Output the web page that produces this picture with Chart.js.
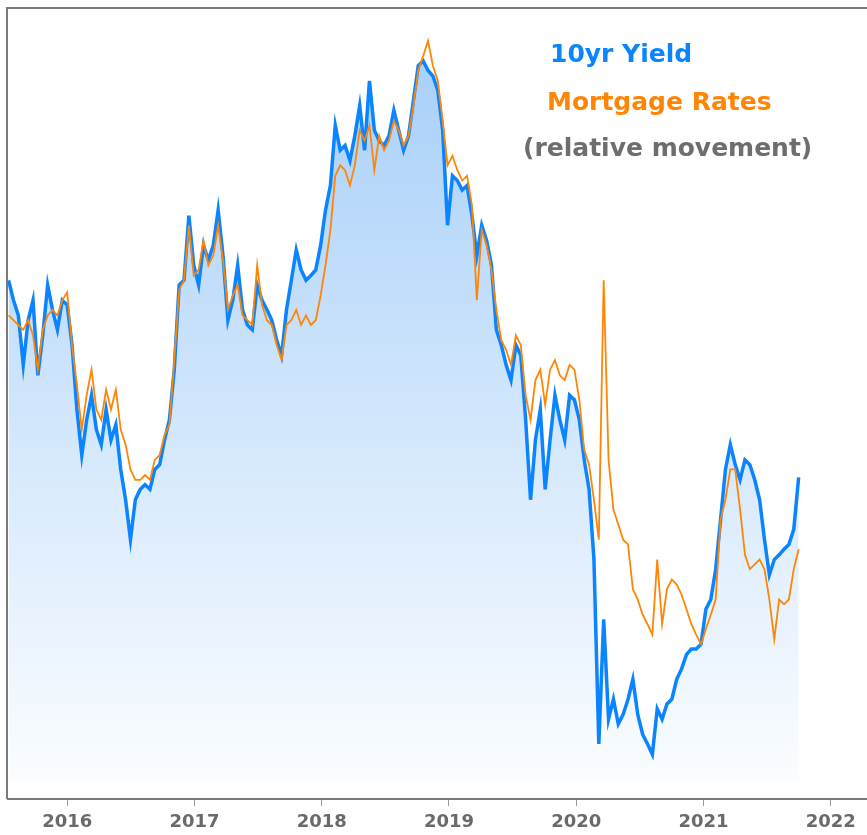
<!DOCTYPE html>
<html>
<head>
<meta charset="utf-8">
<script src="https://cdn.jsdelivr.net/npm/chart.js@4.4.0/dist/chart.umd.min.js"></script>
<style>
    html, body { margin: 0; padding: 0; background: #fff; }
    #wrap { width: 867px; height: 835px; }
</style>
</head>
<body>
<div id="wrap"><canvas id="rateChart" width="867" height="835"></canvas></div>
<script>
// two-week samples starting mid July 2015
const startDate = '2015-07-17';
const stepDays = 14;
const yearTicks = [2016, 2017, 2018, 2019, 2020, 2021, 2022];

// relative movement index (0 = bottom of the chart, 99 = top)
const yieldIndex = [
    65.0, 62.5, 60.6, 54.4, 60.0, 62.5, 53.1, 58.1, 64.4, 61.3,
    58.8, 62.5, 61.9, 56.9, 48.8, 43.1, 47.5, 50.6, 46.3, 44.4,
    48.8, 45.0, 46.9, 41.3, 37.5, 32.5, 37.5, 38.8, 39.4, 38.8,
    41.3, 41.9, 45.0, 47.5, 53.8, 64.4, 65.0, 73.1, 66.9, 64.4,
    69.4, 67.5, 69.4, 73.8, 68.1, 60.0, 62.5, 66.9, 61.3, 59.4,
    58.8, 64.4, 62.5, 61.3, 60.0, 57.5, 55.6, 61.3, 65.0, 68.8,
    66.3, 65.0, 65.6, 66.3, 69.4, 73.8, 76.9, 84.4, 81.3, 81.9,
    80.0, 83.1, 86.9, 81.3, 90.0, 83.8, 82.5, 81.9, 83.1, 86.3,
    83.8, 81.3, 83.1, 87.5, 91.9, 92.5, 91.3, 90.6, 88.8, 83.8,
    71.9, 78.1, 77.5, 76.3, 76.9, 73.1, 68.1, 71.9, 70.0, 66.9,
    58.8, 56.9, 54.4, 52.5, 56.9, 55.6, 47.5, 37.5, 45.0, 48.8,
    38.8, 45.0, 50.6, 47.5, 45.0, 50.6, 50.0, 47.5, 42.5, 38.8,
    30.0, 6.9, 22.5, 10.0, 12.5, 9.4, 10.6, 12.5, 15.0, 10.6,
    8.1, 6.9, 5.6, 11.3, 10.0, 11.9, 12.5, 15.0, 16.3, 18.1,
    18.8, 18.8, 19.4, 23.8, 25.0, 28.8, 35.0, 41.3, 44.4, 41.9,
    40.0, 42.5, 41.9, 40.0, 37.5, 32.5, 28.1, 30.0, 30.6, 31.3,
    31.9, 33.8, 40.3
];
const mortgageIndex = [
    60.6, 60.0, 59.4, 58.8, 60.0, 58.1, 53.8, 58.8, 60.6, 61.3,
    60.6, 62.5, 63.5, 56.9, 51.9, 46.3, 50.6, 53.8, 48.8, 47.5,
    51.3, 48.8, 51.3, 46.3, 44.4, 41.3, 40.0, 40.0, 40.6, 40.0,
    42.5, 43.1, 45.6, 46.9, 55.0, 63.8, 65.0, 71.9, 65.6, 66.3,
    70.0, 66.9, 68.1, 71.9, 67.5, 61.3, 63.1, 64.4, 60.6, 60.0,
    59.4, 66.9, 61.9, 60.0, 59.4, 56.9, 55.0, 59.4, 60.0, 61.3,
    59.4, 60.6, 59.4, 60.0, 63.1, 66.9, 71.3, 78.1, 79.4, 78.8,
    76.9, 79.4, 83.8, 82.5, 84.4, 78.8, 83.1, 81.3, 82.5, 85.0,
    83.8, 81.9, 83.1, 86.9, 91.3, 93.1, 95.0, 91.9, 90.0, 85.0,
    79.4, 80.6, 78.8, 77.5, 78.1, 74.4, 62.5, 71.3, 69.4, 66.3,
    61.3, 57.5, 56.3, 54.4, 58.1, 56.9, 50.6, 47.5, 52.5, 53.8,
    49.4, 53.8, 55.0, 53.1, 52.5, 54.4, 53.8, 50.0, 43.8, 41.9,
    37.5, 32.5, 65.0, 42.5, 36.3, 34.4, 32.5, 31.9, 26.3, 25.0,
    23.1, 21.9, 20.6, 30.0, 21.9, 26.3, 27.5, 26.9, 25.6, 23.8,
    21.9, 20.6, 19.4, 21.3, 23.1, 25.0, 35.0, 37.5, 41.3, 41.3,
    36.3, 30.6, 28.8, 29.4, 30.0, 28.8, 25.0, 20.0, 25.0, 24.4,
    25.0, 28.8, 31.3
];

const blue = '#0a84ff';
const orange = '#ff8505';

function decimalYear(d) {
    const y = d.getUTCFullYear();
    const a = Date.UTC(y, 0, 1), b = Date.UTC(y + 1, 0, 1);
    return y + (d.getTime() - a) / (b - a);
}

const t0 = new Date(startDate + 'T00:00:00Z');
const dates = yieldIndex.map((v, i) => new Date(t0.getTime() + i * stepDays * 86400000));
const xs = dates.map(decimalYear);

const yieldPoints = yieldIndex.map((v, i) => ({ x: xs[i], y: v }));
const mortgagePoints = mortgageIndex.map((v, i) => ({ x: xs[i], y: v }));

// gray frame on the top and the left of the plot
const framePlugin = {
    id: 'frame',
    afterDraw(chart) {
        const { ctx, chartArea } = chart;
        ctx.save();
        ctx.strokeStyle = '#7a7a7a';
        ctx.lineWidth = 2;
        ctx.beginPath();
        ctx.moveTo(chartArea.left - 1, chartArea.bottom);
        ctx.lineTo(chartArea.left - 1, chartArea.top - 1);
        ctx.lineTo(chart.width, chartArea.top - 1);
        ctx.stroke();
        ctx.restore();
    }
};

// the three lines of key text in the top right corner
const keyPlugin = {
    id: 'keyText',
    afterDraw(chart) {
        const ctx = chart.ctx;
        ctx.save();
        ctx.font = 'bold 25px "DejaVu Sans"';
        ctx.textBaseline = 'alphabetic';
        ctx.fillStyle = blue;
        ctx.fillText('10yr Yield', 550, 62);
        ctx.fillStyle = orange;
        ctx.fillText('Mortgage Rates', 547, 110);
        ctx.fillStyle = '#6e6e6e';
        ctx.fillText('(relative movement)', 523, 156);
        ctx.restore();
    }
};

const ctx = document.getElementById('rateChart').getContext('2d');

const rateChart = new Chart(ctx, {
    type: 'line',
    data: {
        datasets: [{
            label: 'Mortgage Rates',
            data: mortgagePoints,
            borderColor: orange,
            borderWidth: 1.8,
            pointRadius: 0,
            fill: false
        }, {
            label: '10yr Yield',
            data: yieldPoints,
            borderColor: blue,
            borderWidth: 3.5,
            pointRadius: 0,
            fill: { value: 2.2 },
            backgroundColor: function(context) {
                const area = context.chart.chartArea;
                if (!area) return 'rgba(190,220,250,0.6)';
                const g = context.chart.ctx.createLinearGradient(0, area.top, 0, area.bottom - 18);
                g.addColorStop(0, '#a3cdf9');
                g.addColorStop(1, '#fbfdff');
                return g;
            }
        }]
    },
    options: {
        responsive: false,
        animation: false,
        events: [],
        layout: {
            padding: { top: 9, left: 8, right: 0, bottom: 0 }
        },
        scales: {
            x: {
                type: 'linear',
                min: 2015.535,
                max: 2022.285,
                afterBuildTicks: function(scale) {
                    scale.ticks = yearTicks.map(v => ({ value: v }));
                },
                afterFit: function(scale) {
                    scale.height = 36;
                },
                grid: {
                    display: true,
                    drawOnChartArea: false,
                    drawTicks: true,
                    tickLength: 7,
                    color: '#9a9a9a',
                    lineWidth: 1
                },
                border: {
                    display: true,
                    color: '#7a7a7a',
                    width: 2
                },
                ticks: {
                    padding: 6,
                    color: '#6a6a6a',
                    font: { family: '"DejaVu Sans"', size: 18, weight: 'bold' },
                    maxRotation: 0,
                    callback: v => String(v)
                }
            },
            y: {
                display: false,
                min: 0,
                max: 99
            }
        },
        plugins: {
            legend: { display: false },
            tooltip: { enabled: false }
        }
    },
    plugins: [framePlugin, keyPlugin]
});
</script>
</body>
</html>
